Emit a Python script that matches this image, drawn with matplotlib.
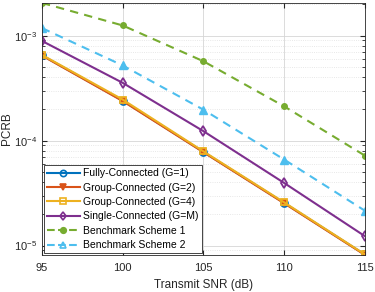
import numpy as np
import matplotlib
matplotlib.use('Agg')
import matplotlib.pyplot as plt
from matplotlib.lines import Line2D

plt.rcParams['font.family'] = ['Liberation Sans', 'DejaVu Sans']

snr = [95, 100, 105, 110, 115]
fully = [6.5e-4, 2.40e-4, 7.8e-5, 2.55e-5, 8.2e-6]
group2 = [6.45e-4, 2.38e-4, 7.75e-5, 2.53e-5, 8.15e-6]
group4 = [6.55e-4, 2.46e-4, 7.9e-5, 2.58e-5, 8.25e-6]
single = [8.9e-4, 3.55e-4, 1.23e-4, 3.95e-5, 1.23e-5]
bench1 = [2.05e-3, 1.25e-3, 5.7e-4, 2.12e-4, 7.2e-5]
bench2 = [1.18e-3, 5.2e-4, 1.97e-4, 6.6e-5, 2.15e-5]
labels = ['Fully-Connected (G=1)', 'Group-Connected (G=2)',
          'Group-Connected (G=4)', 'Single-Connected (G=M)',
          'Benchmark Scheme 1', 'Benchmark Scheme 2']

C = ['#0072BD', '#D95319', '#EDB120', '#7E2F8E', '#77AC30', '#4DBEEE']

fig = plt.figure(figsize=(3.75, 2.92), dpi=100)
ax = fig.add_axes([0.112, 0.127, 0.861, 0.863])

kw = dict(lw=1.5, ms=5, mew=1.3)
ax.plot(snr, bench1, '--', color=C[4], marker='o', mfc=C[4], ms=4, lw=1.5,
        dashes=(4, 3))
ax.plot(snr, bench2, '--', color=C[5], marker='^', mfc=C[5], ms=5.5, lw=1.5,
        dashes=(4, 3))
ax.plot(snr, single, '-', color=C[3], marker='d', mfc='none', **kw)
ax.plot(snr, fully, '-', color=C[0], marker='o', mfc='none', **kw)
ax.plot(snr, group2, '-', color=C[1], marker='v', mfc=C[1], **kw)
ax.plot(snr, group4, '-', color=C[2], marker='s', mfc='none', **kw)

ax.set_yscale('log')
ax.set_xlim(95, 115)
ax.set_ylim(8.15e-6, 2.05e-3)
ax.set_xticks(snr)
ax.grid(True, which='major', color='#d6d6d6', lw=0.6)
ax.grid(True, which='minor', color='#e0e0e0', lw=0.6, ls=':')
ax.tick_params(which='both', direction='in', top=True, right=True,
               labelsize=8, colors='#262626')
ax.tick_params(axis='x', pad=6)
for s in ax.spines.values():
    s.set_color('#262626')
    s.set_linewidth(0.6)
ax.set_xlabel('Transmit SNR (dB)', fontsize=8.5, labelpad=4, color='#262626')
ax.set_ylabel('PCRB', fontsize=8.5, labelpad=1, color='#262626')

markers = ['o', 'v', 's', 'd', 'o', '^']
styles = ['-', '-', '-', '-', '--', '--']
handles = []
for i in range(6):
    mfc = C[4] if i == 4 else ('none' if i != 1 else C[1])
    handles.append(Line2D([], [], color=C[i], ls=styles[i], marker=markers[i],
                          mfc=mfc, ms=4.5 if i != 4 else 4, lw=1.5, mew=1.2))
leg = ax.legend(handles, labels, loc='lower left', fontsize=7.5,
                frameon=True, fancybox=False, framealpha=1, edgecolor='#262626',
                borderpad=0.3, labelspacing=0.42, handlelength=3.2,
                handletextpad=0.3, borderaxespad=0.15)
leg.get_frame().set_linewidth(0.6)

fig.savefig('out.png', dpi=100)
